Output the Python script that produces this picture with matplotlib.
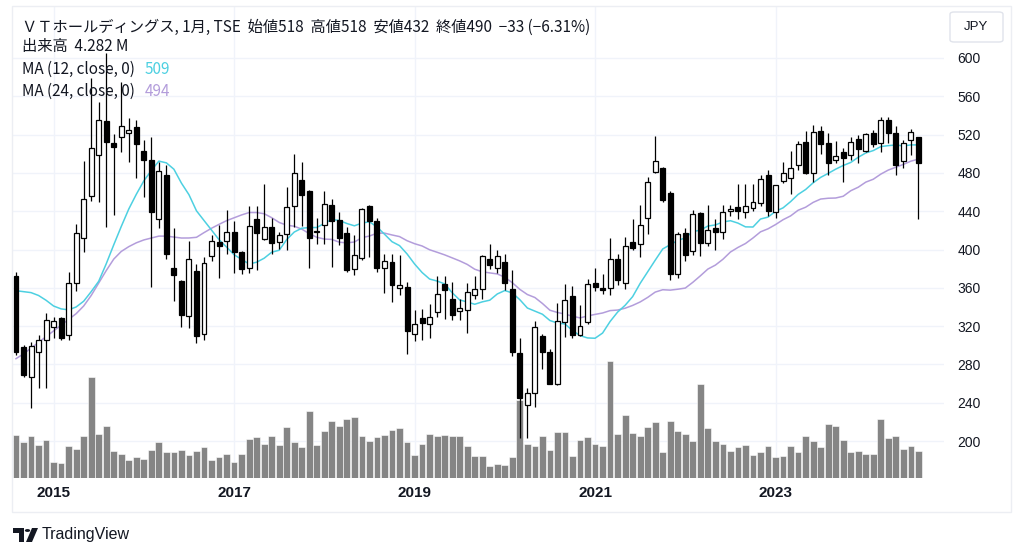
import numpy as np
import pandas as pd
import matplotlib
matplotlib.use("Agg")
import matplotlib.pyplot as plt
from matplotlib.patches import Rectangle, FancyBboxPatch, Polygon, Circle

plt.rcParams['font.family'] = ['Noto Sans CJK JP', 'DejaVu Sans']

# monthly bars, Aug 2014 .. Aug 2024
months = pd.date_range("2014-08-01", "2024-08-01", freq="MS")

opens = [372, 298, 267, 293, 305, 319, 329, 311, 365, 412, 456, 499, 534, 511, 517, 522,
         528, 503, 494, 432, 478, 381, 367, 331, 378, 312, 393, 408, 409, 418, 397, 381,
         432, 411, 424, 408, 416, 445, 473, 461, 418, 426, 447, 431, 417, 380, 391, 445,
         430, 381, 387, 360, 361, 312, 328, 322, 335, 364, 348, 336, 337, 353, 359, 390,
         381, 387, 359, 292, 238, 250, 310, 293, 260, 324, 351, 311, 324, 365, 360, 360,
         390, 365, 408, 406, 433, 481, 485, 459, 374, 417, 398, 438, 407, 422, 418, 440,
         444, 439, 443, 449, 478, 439, 472, 475, 488, 512, 480, 524, 511, 494, 502, 499,
         515, 503, 522, 511, 535, 522, 492, 514, 518]
highs = [376, 300, 303, 311, 334, 330, 330, 376, 427, 492, 579, 554, 605, 521, 575, 537,
         535, 514, 518, 491, 488, 422, 368, 409, 385, 392, 415, 426, 441, 430, 398, 445,
         445, 468, 433, 418, 465, 500, 491, 462, 433, 461, 453, 439, 424, 415, 443, 446,
         433, 395, 395, 394, 366, 337, 338, 343, 372, 372, 366, 348, 365, 372, 394, 406,
         400, 395, 379, 308, 255, 325, 312, 296, 344, 364, 362, 342, 369, 381, 374, 412,
         395, 413, 432, 446, 476, 519, 486, 461, 418, 422, 441, 439, 446, 432, 447, 447,
         468, 468, 468, 478, 483, 467, 491, 503, 513, 524, 530, 529, 522, 513, 506, 518,
         520, 522, 525, 538, 538, 529, 514, 526, 518]
lows = [290, 267, 234, 255, 255, 308, 306, 306, 357, 397, 451, 450, 424, 436, 502, 491,
        475, 455, 361, 422, 390, 346, 319, 318, 302, 305, 388, 370, 395, 375, 374, 375,
        379, 410, 395, 401, 400, 423, 425, 381, 406, 406, 382, 405, 376, 373, 389, 392,
        377, 355, 345, 352, 291, 304, 306, 308, 330, 327, 326, 326, 313, 348, 348, 380,
        375, 358, 289, 203, 203, 236, 275, 260, 259, 309, 308, 310, 322, 357, 354, 352,
        363, 359, 400, 392, 416, 480, 450, 368, 370, 388, 394, 393, 404, 400, 411, 435,
        432, 433, 440, 445, 435, 433, 469, 458, 483, 479, 470, 500, 478, 490, 471, 493,
        490, 502, 507, 502, 511, 478, 485, 499, 432]
closes = [293, 269, 299, 306, 326, 325, 308, 365, 417, 453, 506, 535, 512, 507, 529, 525,
          510, 493, 439, 482, 395, 373, 332, 390, 310, 386, 409, 404, 418, 397, 380, 425,
          417, 423, 407, 415, 444, 480, 457, 412, 419, 448, 430, 412, 379, 394, 442, 430,
          381, 388, 363, 363, 315, 322, 323, 330, 354, 358, 332, 339, 356, 359, 393, 384,
          393, 365, 293, 245, 250, 319, 293, 260, 325, 347, 311, 320, 364, 361, 358, 390,
          368, 404, 402, 426, 470, 492, 452, 374, 416, 394, 437, 407, 420, 418, 439, 442,
          440, 445, 450, 474, 440, 467, 480, 485, 510, 480, 523, 510, 490, 498, 496, 512,
          505, 521, 510, 535, 522, 488, 511, 523, 490]
# volume in millions of shares
volumes = [6.77, 5.57, 6.62, 5.10, 6.00, 2.45, 2.29, 4.95, 4.58, 6.51, 15.73, 6.93, 8.08,
           4.27, 3.80, 2.87, 3.28, 3.02, 4.43, 5.57, 4.01, 4.01, 4.43, 3.54, 4.17, 4.79,
           2.76, 3.23, 3.80, 2.55, 3.80, 6.15, 6.41, 5.37, 6.62, 5.21, 7.97, 5.63, 4.79,
           10.52, 5.21, 7.40, 8.96, 8.08, 9.22, 9.53, 6.62, 5.84, 6.41, 6.72, 7.55, 7.82,
           5.57, 3.54, 5.37, 6.93, 6.51, 6.72, 6.51, 6.62, 4.95, 3.49, 3.49, 1.82, 2.24,
           2.08, 3.23, 12.24, 5.31, 4.95, 6.62, 4.43, 7.14, 7.14, 3.49, 5.89, 6.36, 5.37,
           5.05, 18.24, 6.93, 9.90, 7.03, 6.51, 7.92, 8.75, 4.06, 8.96, 7.29, 6.88, 5.73,
           14.69, 7.82, 5.73, 5.31, 4.27, 4.79, 5.21, 3.54, 4.01, 4.95, 3.28, 3.49, 4.95,
           4.12, 6.51, 5.84, 4.85, 8.49, 8.18, 5.89, 4.12, 4.27, 3.80, 3.80, 9.22, 6.25,
           6.62, 4.53, 5.05, 4.28]
ma12_head = [357, 356, 355, 352, 347, 341, 338, 337, 340, 346, 356]
ma24_head = [286, 291, 297, 303, 309, 315, 321, 327, 333, 341, 352, 365, 378, 390, 398,
             403, 407, 410, 412, 414, 414, 413, 412]

year_ticks = [5, 29, 53, 77, 101]
year_labels = ["2015", "2017", "2019", "2021", "2023"]
price_ticks = [200, 240, 280, 320, 360, 400, 440, 480, 520, 560, 600]

ma12 = pd.Series(closes).rolling(12).mean()
ma12[:len(ma12_head)] = ma12_head
ma24 = pd.Series(closes).rolling(24).mean()
ma24[:len(ma24_head)] = ma24_head

W, H = 1024, 557
fig = plt.figure(figsize=(W / 100, H / 100), dpi=100)
fig.patch.set_facecolor("white")

def fx(px):
    return px / W

def fy(py):
    return 1 - py / H

left, right, top, bottom = 12, 944, 6, 478
pos = [fx(left), fy(bottom), fx(right - left), (bottom - top) / H]

grid_c = "#f0f3fa"
text_c = "#131722"
latin = ["Liberation Sans", "DejaVu Sans"]
x = np.arange(len(closes))
xlim = (-0.53, 123.4)
ylim = (161.4, 654.3)

# bottom layer: grid + price scale
ax = fig.add_axes(pos)
ax.set_xlim(*xlim)
ax.set_ylim(*ylim)
for p in price_ticks:
    ax.axhline(p, color=grid_c, lw=1, zorder=0)
for t in year_ticks:
    ax.axvline(t, color=grid_c, lw=1, zorder=0)
ax.yaxis.tick_right()
ax.set_yticks(price_ticks)
ax.set_yticklabels([str(p) for p in price_ticks], fontsize=10, color=text_c, family=latin)
ax.tick_params(axis="y", length=0, pad=9.5)
ax.set_xticks(year_ticks)
ax.set_xticklabels(year_labels, fontsize=11, color=text_c, fontweight="bold", family=latin)
ax.tick_params(axis="x", length=0, pad=6)
for s in ax.spines.values():
    s.set_visible(False)

# middle layer: volume
axv = fig.add_axes(pos, sharex=ax)
axv.set_ylim(0, (bottom - top) * 0.1563)
axv.bar(x, volumes, width=0.9, color="#858585", edgecolor="white", linewidth=0.4)
axv.axis("off")
axv.patch.set_visible(False)

# top layer: candles and moving averages
axc = fig.add_axes(pos, sharex=ax, sharey=ax)
axc.axis("off")
axc.patch.set_visible(False)
axc.plot(x, ma24, color="#b39ddb", lw=1.1, zorder=1)
axc.plot(x, ma12, color="#4dd0e1", lw=1.1, zorder=1)
o = np.array(opens)
c = np.array(closes)
axc.vlines(x, lows, highs, color="#000000", lw=0.9, zorder=2)
body_bottom = np.minimum(o, c)
body_h = np.maximum(np.abs(c - o), 0.8)
face = ["white" if cc >= oo else "black" for oo, cc in zip(opens, closes)]
axc.bar(x, body_h, bottom=body_bottom, width=0.66, color=face,
        edgecolor="black", linewidth=0.9, zorder=3)
axc.set_xlim(*xlim)

# outer frame
fig.patches.append(Rectangle((fx(12), fy(512)), fx(1011 - 12), (512 - 6) / H,
                             transform=fig.transFigure, fill=False,
                             edgecolor="#eceef3", lw=1))

# legend text
fig.text(fx(22), fy(27), "ＶＴホールディングス, 1月, TSE  始値518  高値518  安値432  終値490  −33 (−6.31%)",
         fontsize=11, color=text_c, va="center")
fig.text(fx(22), fy(47), "出来高  4.282 M", fontsize=11, color=text_c, va="center")
renderer = fig.canvas.get_renderer()
for ypx, label, val, col in [(69, "MA (12, close, 0)", "509", "#4dd0e1"),
                             (91, "MA (24, close, 0)", "494", "#b39ddb")]:
    t = fig.text(fx(22), fy(ypx), label, fontsize=11, color=text_c, va="center")
    bb = t.get_window_extent(renderer)
    fig.text(fx(bb.x1 + 10), fy(ypx), val, fontsize=11, color=col, va="center")

# currency box
fig.patches.append(FancyBboxPatch((fx(950), fy(42)), fx(53), 30 / H,
                                  boxstyle="round,pad=0,rounding_size=0.004",
                                  transform=fig.transFigure, fill=False,
                                  edgecolor="#e0e3eb", lw=1))
fig.text(fx(976), fy(27), "JPY", fontsize=9.5, color=text_c, ha="center", va="center",
         family=latin)

# TradingView mark
logo = [
    Polygon([(fx(13), fy(528)), (fx(24), fy(528)), (fx(24), fy(542)), (fx(19), fy(542)),
             (fx(19), fy(533)), (fx(13), fy(533))], closed=True),
    Circle((fx(27.5), fy(530.5)), 0.0026),
    Polygon([(fx(32), fy(528)), (fx(38), fy(528)), (fx(32), fy(542)), (fx(26), fy(542))],
            closed=True),
]
for p in logo:
    p.set_transform(fig.transFigure)
    p.set_facecolor(text_c)
    p.set_edgecolor("none")
    fig.patches.append(p)
fig.text(fx(42), fy(535), "TradingView", fontsize=11.5, color=text_c, va="center",
         family=latin)

fig.savefig("out.png", dpi=100, facecolor="white")
